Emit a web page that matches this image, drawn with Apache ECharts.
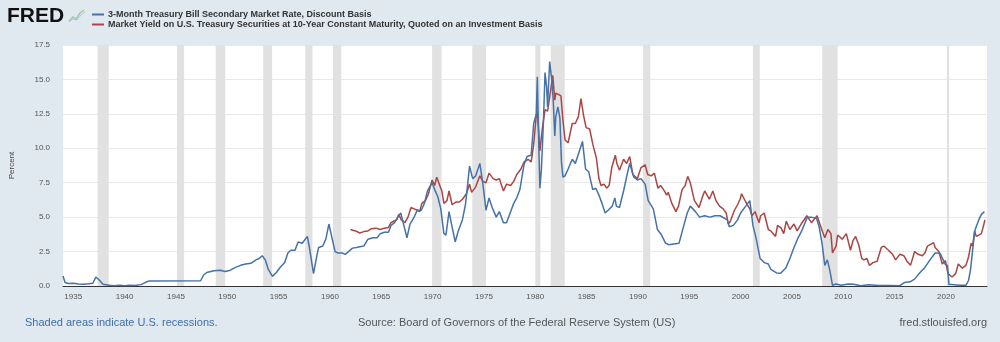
<!DOCTYPE html>
<html><head><meta charset="utf-8">
<script src="https://cdn.jsdelivr.net/npm/echarts@6/dist/echarts.min.js"></script>
<style>html,body{margin:0;padding:0;background:#e1e9f0;}#c{width:1000px;height:342px;}</style>
</head><body><div id="c"></div>
<script>
const seriesNames = ["3-Month Treasury Bill Secondary Market Rate, Discount Basis",
  "Market Yield on U.S. Treasury Securities at 10-Year Constant Maturity, Quoted on an Investment Basis"];
const xTickYears = [1935,1940,1945,1950,1955,1960,1965,1970,1975,1980,1985,1990,1995,2000,2005,2010,2015,2020];
const yTicks = [0,2.5,5,7.5,10,12.5,15,17.5];
const recessions = [[1937.37,1938.45],[1945.1,1945.8],[1948.87,1949.8],[1953.5,1954.37],[1957.6,1958.3],[1960.3,1961.1],
  [1969.95,1970.87],[1973.87,1975.2],[1980.0,1980.5],[1981.5,1982.87],[1990.5,1991.2],[2001.2,2001.87],[2007.95,2009.45],[2020.1,2020.3]];
const tbill = [[1934.0,0.72],[1934.2,0.25],[1934.5,0.18],[1935.0,0.2],[1935.5,0.15],[1936.0,0.12],[1936.5,0.16],[1936.9,0.2],[1937.2,0.65],[1937.5,0.45],[1937.9,0.12],[1938.5,0.05],[1939.0,0.02],[1939.5,0.05],[1940.0,0.02],[1940.5,0.05],[1941.0,0.03],[1941.6,0.1],[1942.0,0.25],[1942.4,0.37],[1947.4,0.38],[1947.7,0.8],[1948.0,0.98],[1948.7,1.1],[1949.3,1.15],[1949.8,1.05],[1950.3,1.15],[1950.8,1.35],[1951.3,1.5],[1951.8,1.6],[1952.3,1.65],[1952.8,1.9],[1953.1,2.0],[1953.4,2.2],[1953.7,1.9],[1954.0,1.2],[1954.4,0.7],[1954.8,1.0],[1955.2,1.4],[1955.6,1.7],[1955.9,2.4],[1956.2,2.6],[1956.6,2.6],[1956.9,3.2],[1957.3,3.1],[1957.8,3.6],[1958.0,2.8],[1958.4,0.9],[1958.7,2.1],[1958.9,2.8],[1959.3,2.9],[1959.6,3.4],[1959.9,4.5],[1960.2,3.5],[1960.5,2.5],[1960.8,2.4],[1961.2,2.4],[1961.5,2.3],[1961.8,2.5],[1962.2,2.75],[1962.6,2.8],[1962.9,2.85],[1963.3,2.9],[1963.7,3.4],[1964.2,3.5],[1964.6,3.5],[1964.9,3.8],[1965.3,3.9],[1965.7,3.9],[1965.95,4.4],[1966.3,4.6],[1966.6,5.0],[1966.9,5.3],[1967.2,4.4],[1967.5,3.5],[1967.8,4.5],[1968.2,5.0],[1968.5,5.5],[1968.9,5.5],[1969.2,6.0],[1969.5,6.9],[1969.95,7.5],[1970.2,7.0],[1970.5,6.5],[1970.8,5.6],[1971.1,3.8],[1971.3,3.7],[1971.6,5.4],[1971.9,4.3],[1972.2,3.2],[1972.5,4.0],[1972.9,4.8],[1973.2,5.9],[1973.6,8.7],[1973.9,7.8],[1974.2,8.0],[1974.6,8.9],[1974.9,7.4],[1975.2,5.5],[1975.5,6.4],[1975.8,5.7],[1976.2,5.0],[1976.5,5.4],[1976.9,4.6],[1977.2,4.6],[1977.5,5.2],[1977.9,6.0],[1978.2,6.4],[1978.5,7.0],[1978.9,8.8],[1979.2,9.4],[1979.6,9.5],[1979.85,11.8],[1980.1,12.5],[1980.2,15.2],[1980.35,10.0],[1980.45,7.1],[1980.6,8.5],[1980.8,12.0],[1980.95,15.5],[1981.1,14.5],[1981.2,13.0],[1981.4,16.3],[1981.6,15.0],[1981.75,13.5],[1981.9,10.9],[1982.0,12.3],[1982.2,13.0],[1982.4,12.2],[1982.55,9.0],[1982.7,7.9],[1982.9,8.0],[1983.2,8.5],[1983.6,9.2],[1983.9,8.9],[1984.3,9.8],[1984.6,10.5],[1984.9,8.5],[1985.2,8.3],[1985.6,7.0],[1985.9,7.1],[1986.2,6.6],[1986.5,6.0],[1986.8,5.3],[1987.1,5.5],[1987.5,5.8],[1987.75,6.4],[1987.9,5.8],[1988.2,5.7],[1988.6,6.9],[1988.95,8.1],[1989.2,8.9],[1989.6,7.9],[1989.95,7.7],[1990.3,7.8],[1990.7,7.4],[1991.0,6.2],[1991.5,5.6],[1991.9,4.1],[1992.3,3.7],[1992.7,3.1],[1993.0,3.0],[1993.5,3.05],[1994.0,3.1],[1994.4,4.2],[1994.8,5.3],[1995.1,5.8],[1995.6,5.4],[1996.0,5.0],[1996.5,5.1],[1997.0,5.0],[1997.5,5.1],[1998.0,5.1],[1998.7,4.8],[1998.9,4.3],[1999.3,4.4],[1999.7,4.8],[2000.0,5.3],[2000.5,5.8],[2000.9,6.2],[2001.2,4.4],[2001.5,3.5],[2001.9,2.0],[2002.3,1.7],[2002.7,1.6],[2002.95,1.2],[2003.5,0.95],[2003.9,0.92],[2004.4,1.3],[2004.8,2.0],[2005.2,2.8],[2005.6,3.5],[2005.95,4.0],[2006.5,5.0],[2006.9,5.0],[2007.4,4.9],[2007.65,4.3],[2007.95,3.0],[2008.2,1.5],[2008.45,1.9],[2008.7,1.1],[2008.95,0.05],[2009.3,0.15],[2009.8,0.05],[2010.5,0.15],[2011.0,0.13],[2011.7,0.02],[2012.5,0.09],[2013.5,0.04],[2014.5,0.03],[2015.5,0.02],[2015.95,0.25],[2016.5,0.3],[2016.95,0.5],[2017.5,1.0],[2017.95,1.35],[2018.5,1.95],[2018.95,2.4],[2019.4,2.4],[2019.7,1.95],[2019.95,1.55],[2020.15,1.5],[2020.3,0.1],[2020.6,0.1],[2021.0,0.08],[2021.5,0.05],[2021.95,0.05],[2022.2,0.4],[2022.4,1.2],[2022.6,2.6],[2022.8,4.0],[2022.95,4.3],[2023.2,4.8],[2023.45,5.2],[2023.75,5.4]];
const tenYear = [[1962.0,4.1],[1962.5,4.0],[1962.9,3.85],[1963.3,3.95],[1963.7,4.0],[1964.0,4.15],[1964.5,4.2],[1964.9,4.1],[1965.3,4.2],[1965.7,4.25],[1965.95,4.6],[1966.2,4.7],[1966.5,4.8],[1966.7,5.2],[1966.95,4.8],[1967.3,4.6],[1967.6,5.0],[1967.9,5.7],[1968.2,5.6],[1968.5,5.5],[1968.75,5.4],[1968.95,6.0],[1969.3,6.2],[1969.6,6.7],[1969.95,7.7],[1970.2,7.3],[1970.4,7.9],[1970.6,7.5],[1970.9,6.9],[1971.1,6.0],[1971.4,6.2],[1971.6,6.9],[1971.9,5.9],[1972.3,6.1],[1972.6,6.1],[1972.9,6.3],[1973.3,6.7],[1973.6,7.4],[1973.8,6.8],[1974.2,7.2],[1974.6,8.0],[1974.9,7.6],[1975.2,7.5],[1975.5,8.2],[1975.9,7.8],[1976.2,7.7],[1976.5,7.8],[1976.9,6.9],[1977.2,7.4],[1977.6,7.3],[1977.9,7.6],[1978.2,8.1],[1978.6,8.5],[1978.9,9.0],[1979.3,9.2],[1979.6,9.0],[1979.85,10.3],[1980.1,12.4],[1980.2,12.7],[1980.45,9.8],[1980.7,11.5],[1980.95,12.8],[1981.2,12.7],[1981.4,13.7],[1981.7,15.3],[1981.9,13.5],[1982.0,14.0],[1982.3,13.9],[1982.5,13.8],[1982.7,12.0],[1982.9,10.6],[1983.2,10.4],[1983.6,11.8],[1983.9,11.8],[1984.2,12.3],[1984.45,13.6],[1984.7,12.4],[1984.95,11.5],[1985.3,11.4],[1985.6,10.3],[1985.95,9.3],[1986.2,7.8],[1986.4,7.3],[1986.7,7.4],[1986.95,7.1],[1987.2,7.3],[1987.45,8.6],[1987.8,9.5],[1987.95,8.9],[1988.2,8.4],[1988.6,9.2],[1988.9,8.9],[1989.2,9.4],[1989.5,8.1],[1989.95,7.8],[1990.3,8.6],[1990.7,8.8],[1990.95,8.1],[1991.3,8.0],[1991.6,8.2],[1991.95,7.1],[1992.2,7.3],[1992.5,7.0],[1992.8,6.6],[1992.95,6.8],[1993.3,6.0],[1993.7,5.4],[1993.95,5.8],[1994.3,7.0],[1994.6,7.3],[1994.85,7.96],[1995.1,7.5],[1995.5,6.2],[1995.95,5.7],[1996.3,6.5],[1996.5,6.9],[1996.95,6.3],[1997.3,6.9],[1997.6,6.2],[1997.95,5.8],[1998.3,5.6],[1998.6,5.3],[1998.8,4.5],[1999.0,4.7],[1999.4,5.5],[1999.7,5.9],[1999.95,6.3],[2000.1,6.7],[2000.5,6.1],[2000.9,5.6],[2001.1,5.1],[2001.4,5.4],[2001.8,4.6],[2001.95,5.1],[2002.3,5.3],[2002.7,4.1],[2002.95,4.0],[2003.4,3.6],[2003.6,4.4],[2003.95,4.2],[2004.2,3.8],[2004.45,4.7],[2004.8,4.1],[2005.2,4.5],[2005.5,4.0],[2005.9,4.5],[2006.45,5.1],[2006.9,4.6],[2007.45,5.1],[2007.9,4.1],[2008.2,3.5],[2008.5,4.1],[2008.8,3.8],[2008.95,2.4],[2009.3,2.9],[2009.45,3.7],[2009.9,3.4],[2010.3,3.8],[2010.7,2.6],[2010.95,3.3],[2011.2,3.6],[2011.5,3.0],[2011.8,2.0],[2012.0,1.9],[2012.3,2.0],[2012.55,1.5],[2012.9,1.7],[2013.3,1.8],[2013.7,2.8],[2013.95,2.9],[2014.4,2.6],[2014.8,2.3],[2015.1,1.9],[2015.5,2.3],[2015.9,2.2],[2016.2,1.8],[2016.55,1.5],[2016.95,2.5],[2017.3,2.3],[2017.7,2.2],[2017.95,2.4],[2018.2,2.9],[2018.8,3.15],[2018.95,2.8],[2019.3,2.5],[2019.65,1.6],[2019.95,1.85],[2020.2,0.9],[2020.6,0.65],[2020.95,0.9],[2021.2,1.6],[2021.6,1.3],[2021.95,1.5],[2022.2,2.1],[2022.45,3.1],[2022.6,2.9],[2022.8,4.0],[2022.95,3.6],[2023.2,3.7],[2023.45,3.8],[2023.6,4.2],[2023.8,4.8]];

const FONT = "'Liberation Sans', Arial, sans-serif";
const chart = echarts.init(document.getElementById('c'), null, {renderer:'canvas'});
chart.setOption({
  backgroundColor: '#e1e9f0',
  animation: false,
  textStyle: {fontFamily: FONT},
  grid: {left: 60, right: 13, top: 45, bottom: 56, backgroundColor: '#ffffff', show: true, borderWidth: 0},
  legend: {
    orient: 'vertical', left: 92, top: 10, padding: 0, itemGap: 1, itemWidth: 12, itemHeight: 2, icon: 'rect',
    data: seriesNames,
    textStyle: {fontSize: 9, fontWeight: 'bold', color: '#333', fontFamily: FONT, padding: [0,0,0,-1]}
  },
  xAxis: {
    type: 'value', min: 1934, max: 2024,
    axisLine: {show: true, lineStyle: {color: '#333', width: 1}},
    axisTick: {show: false},
    splitLine: {show: false},
    axisLabel: {customValues: xTickYears, formatter: v => String(Math.round(v)), fontSize: 8, color: '#555', margin: 7}
  },
  yAxis: {
    type: 'value', min: 0, max: 17.5, interval: 2.5,
    name: 'Percent', nameLocation: 'middle', nameGap: 47, nameRotate: 90,
    nameTextStyle: {fontSize: 8, color: '#444'},
    axisLine: {show: false}, axisTick: {show: false},
    splitLine: {lineStyle: {color: '#e8e8e8', width: 1}},
    axisLabel: {formatter: v => v.toFixed(1), fontSize: 8, color: '#555', margin: 13}
  },
  series: [
    {type: 'line', name: 'rec', data: [], silent: true, z: 1,
     markArea: {silent: true, itemStyle: {color: '#e1e1e1'},
       data: recessions.map(r => [{xAxis: r[0]}, {xAxis: r[1]}])}},
    {type: 'line', name: seriesNames[0], data: tbill, showSymbol: false, z: 3,
     lineStyle: {color: '#4572a7', width: 1.5}, itemStyle: {color: '#4572a7'}},
    {type: 'line', name: seriesNames[1], data: tenYear, showSymbol: false, z: 2,
     lineStyle: {color: '#aa4643', width: 1.5}, itemStyle: {color: '#aa4643'}}
  ],
  graphic: [
    {type: 'text', left: 7, top: 6, style: {text: 'FRED', font: "bold 21px 'Liberation Sans', Arial, sans-serif", fill: '#111'}},
    {type: 'polyline', shape: {points: [[69,21],[73,17],[76,19],[80,13],[84,10]]}, style: {stroke: '#9fc9a8', lineWidth: 1.5, fill: null}},
    {type: 'polyline', shape: {points: [[69,22],[73,19],[77,20],[81,15],[85,12]]}, style: {stroke: '#a9c4dc', lineWidth: 1, fill: null}},
    {type: 'text', left: 25, top: 317, style: {text: 'Shaded areas indicate U.S. recessions.', font: "11px 'Liberation Sans', Arial, sans-serif", fill: '#3d6ea8'}},
    {type: 'text', left: 358, top: 317, style: {text: 'Source: Board of Governors of the Federal Reserve System (US)', font: "11px 'Liberation Sans', Arial, sans-serif", fill: '#555'}},
    {type: 'text', right: 13, top: 317, style: {text: 'fred.stlouisfed.org', font: "11px 'Liberation Sans', Arial, sans-serif", fill: '#555'}}
  ]
});
</script></body></html>
